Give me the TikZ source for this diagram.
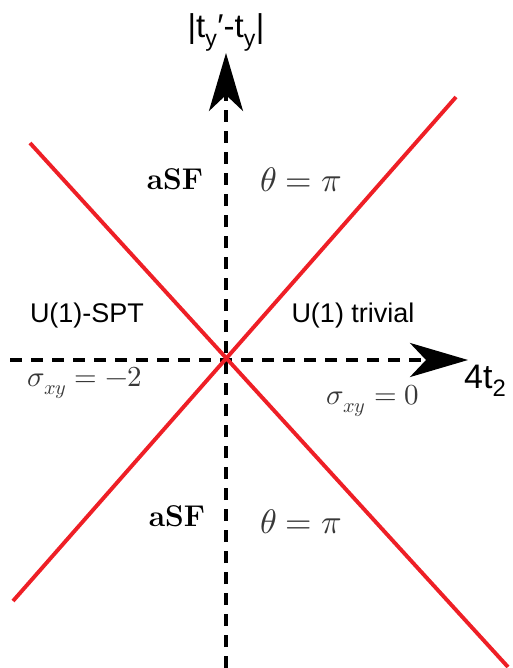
\documentclass[tikz,border=0pt]{standalone}
\usepackage{fontspec}
\usepackage{unicode-math}
\setmathfont{Latin Modern Math}
\setsansfont{Liberation Sans}
\usetikzlibrary{arrows.meta}
\definecolor{phasered}{HTML}{EE1F26}
\definecolor{mathgray}{HTML}{383838}

\begin{document}
\begin{tikzpicture}[x=1pt,y=-1pt,
  axis/.style={line width=3.8pt,dash pattern=on 12pt off 9pt,-{Stealth[length=58pt,width=34pt,inset=16pt]}},
  bound/.style={line width=3.9pt,phasered},
  sanslbl/.style={font=\sffamily\fontsize{27}{30}\selectfont,inner sep=0pt},
  mathlbl/.style={text=mathgray,font=\fontsize{34}{38}\selectfont,inner sep=0pt}]
\useasboundingbox (0,0) rectangle (513,668);
% axes
\coordinate (ybot) at (226,668); \coordinate (ytop) at (226,53);
\coordinate (xleft) at (10,360); \coordinate (xright) at (468,360);
\draw[axis] (ybot)--(ytop);
\draw[axis] (xleft)--(xright);
% phase boundaries
\coordinate (a1) at (30,143); \coordinate (a2) at (508,667);
\coordinate (b1) at (13,601); \coordinate (b2) at (456,97);
\draw[bound] (a1)--(a2);
\draw[bound] (b1)--(b2);
% axis labels
\node[sanslbl,font=\sffamily\fontsize{33}{36}\selectfont,anchor=base] (ylab) at (226,38) {|t\textsubscript{y}′-t\textsubscript{y}|};
\node[sanslbl,font=\sffamily\fontsize{34}{38}\selectfont,anchor=base west] (xlab) at (464,388) {4t\textsubscript{2}};
% phases
\node[sanslbl] (spt) at (87,316) {U(1)-SPT};
\node[sanslbl] (triv) at (353,316) {U(1) trivial};
\node[mathlbl,text=black,font=\fontsize{30}{33}\selectfont] (sfup) at (175,179) {$\mathbf{aSF}$};
\node[mathlbl] (thup) at (301,180) {$\theta=\pi$};
\node[mathlbl,text=black,font=\fontsize{30}{33}\selectfont] (sfdn) at (177,516) {$\mathbf{aSF}$};
\node[mathlbl] (thdn) at (301,522) {$\theta=\pi$};
\node[mathlbl,font=\fontsize{29}{32}\selectfont] (hall1) at (85,383) {$\sigma_{xy}=-2$};
\node[mathlbl,font=\fontsize{29}{32}\selectfont] (hall0) at (373,401) {$\sigma_{xy}=0$};
\end{tikzpicture}
\end{document}
